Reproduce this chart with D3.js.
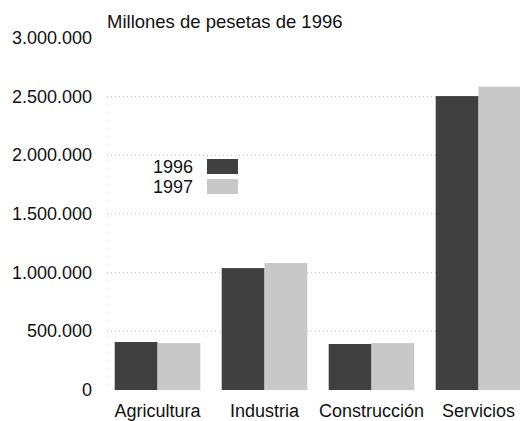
<!DOCTYPE html>
<html>
<head>
<meta charset="utf-8">
<script src="https://cdn.jsdelivr.net/npm/d3@7"></script>
<style>
  body { margin: 0; background: #fff; }
  svg { display: block; font-family: "Liberation Sans", Arial, sans-serif; }
</style>
</head>
<body>
<svg id="chart" width="520" height="421"></svg>
<script>
const categories = ["Agricultura", "Industria", "Construcción", "Servicios"];
const years = ["1996", "1997"];
const values1996 = [409000, 1039000, 392000, 2505000];
const values1997 = [400000, 1082000, 400000, 2585000];
const yTicks = [0, 500000, 1000000, 1500000, 2000000, 2500000, 3000000];
const title = "Millones de pesetas de 1996";

const colors = { "1996": "#404040", "1997": "#c8c8c8" };

const data = categories.map((c, i) => ({ cat: c, "1996": values1996[i], "1997": values1997[i] }));

const svg = d3.select("#chart");
const width = 520, height = 421;

const es = d3.formatLocale({ decimal: ",", thousands: ".", grouping: [3], currency: ["", ""] });
const fmt = es.format(",d");

const x = d3.scaleBand()
  .domain(categories)
  .range([104, 532])
  .paddingInner(0.2)
  .paddingOuter(0.1);

const xs = d3.scaleBand()
  .domain(years)
  .range([0, x.bandwidth()]);

const y = d3.scaleLinear()
  .domain([0, 3000000])
  .range([390, 38]);

// grid (faint, dotted)
svg.append("g")
  .selectAll("line")
  .data(yTicks.filter(d => d > 0 && d < 3000000))
  .join("line")
  .attr("x1", 107)
  .attr("x2", width)
  .attr("y1", d => y(d))
  .attr("y2", d => y(d))
  .attr("stroke", "#c4c4c4")
  .attr("stroke-width", 1)
  .attr("stroke-dasharray", "1,3");

svg.append("line")
  .attr("x1", 107).attr("x2", 107)
  .attr("y1", y(2500000)).attr("y2", y(0))
  .attr("stroke", "#cccccc")
  .attr("stroke-dasharray", "1,7");

// y labels
svg.append("g")
  .selectAll("text")
  .data(yTicks)
  .join("text")
  .attr("x", 92)
  .attr("y", d => y(d) + 6)
  .attr("text-anchor", "end")
  .attr("font-size", 18)
  .attr("fill", "#111")
  .text(d => fmt(d));

// bars
const groups = svg.append("g")
  .selectAll("g")
  .data(data)
  .join("g")
  .attr("transform", d => `translate(${x(d.cat)},0)`);

groups.selectAll("rect")
  .data(d => years.map(yr => ({ yr, v: d[yr] })))
  .join("rect")
  .attr("x", d => xs(d.yr))
  .attr("width", xs.bandwidth())
  .attr("y", d => y(d.v))
  .attr("height", d => y(0) - y(d.v))
  .attr("fill", d => colors[d.yr]);

// x labels
svg.append("g")
  .selectAll("text")
  .data(categories)
  .join("text")
  .attr("x", d => x(d) + x.bandwidth() / 2)
  .attr("y", 417)
  .attr("text-anchor", "middle")
  .attr("font-size", 18)
  .attr("fill", "#111")
  .text(d => d);

// title
svg.append("text")
  .attr("x", 107)
  .attr("y", 28)
  .attr("font-size", 18.5)
  .attr("fill", "#111")
  .text(title);

// legend
const legend = svg.append("g")
  .selectAll("g")
  .data(years)
  .join("g")
  .attr("transform", (d, i) => `translate(0,${159 + i * 20})`);

legend.append("rect")
  .attr("x", 207)
  .attr("y", 0)
  .attr("width", 31)
  .attr("height", 15)
  .attr("fill", d => colors[d]);

legend.append("text")
  .attr("x", 193)
  .attr("y", 14)
  .attr("text-anchor", "end")
  .attr("font-size", 18)
  .attr("fill", "#111")
  .text(d => d);
</script>
</body>
</html>
